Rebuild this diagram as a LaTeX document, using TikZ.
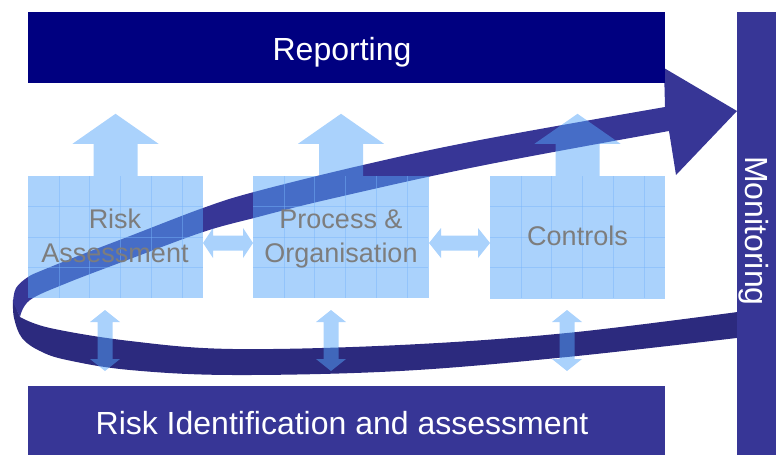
\documentclass[tikz,border=0pt]{standalone}
\usepackage{fontspec}
\setmainfont{Liberation Sans}
\usetikzlibrary{calc}
\definecolor{navybar}{RGB}{0,0,128}
\definecolor{bandbar}{RGB}{55,54,150}
\definecolor{banddark}{RGB}{44,42,126}
\definecolor{lblue}{RGB}{85,165,249}
\definecolor{gridblue}{RGB}{120,180,250}
\definecolor{labelgray}{RGB}{125,125,125}
\tikzset{
  lb/.style={fill=lblue, fill opacity=0.5},
  boxnode/.style={rectangle, lb, draw=none, inner sep=0pt, minimum width=175pt, minimum height=122pt},
  gridline/.style={draw=gridblue, draw opacity=0.45, line width=0.6pt},
  barnode/.style={rectangle, draw=none, inner sep=0pt},
  lbl/.style={text=labelgray, font=\fontsize{27}{27}\selectfont, anchor=base, inner sep=0pt},
  bartext/.style={text=white, font=\fontsize{32}{32}\selectfont, anchor=base, inner sep=0pt},
  uparr/.pic={\fill[lb] (-22,0) -- (-22,-32) -- (-43,-32) -- (0,-62) -- (43,-32) -- (22,-32) -- (22,0) -- cycle;}
}
\newcommand\hdarrow[4]{\fill[lb] (#1,#3) -- (#1+#4,#3-15) -- (#1+#4,#3-7.5) -- (#2-#4,#3-7.5) -- (#2-#4,#3-15) -- (#2,#3) -- (#2-#4,#3+15) -- (#2-#4,#3+7.5) -- (#1+#4,#3+7.5) -- (#1+#4,#3+15) -- cycle;}
\newcommand\vdarrow[4]{\fill[lb] (#3,#1) -- (#3+15,#1+#4) -- (#3+7.5,#1+#4) -- (#3+7.5,#2-#4) -- (#3+15,#2-#4) -- (#3,#2) -- (#3-15,#2-#4) -- (#3-7.5,#2-#4) -- (#3-7.5,#1+#4) -- (#3-15,#1+#4) -- cycle;}
\newcommand\boxgrid[2]{%
  \foreach \k in {1,...,5} {\draw[gridline] (#1+30.8*\k,#2) -- (#1+30.8*\k,#2+122);}
  \foreach \k in {1,2,3} {\draw[gridline] (#1,#2+30.5*\k) -- (#1+175,#2+30.5*\k);}
}
\begin{document}
\begin{tikzpicture}[x=1pt, y=-1pt]
\useasboundingbox (0,0) rectangle (776,455);
% swoosh band: lower (darker) part
\fill[banddark] plot[smooth, tension=0.6] coordinates {(13,300) (14,318) (22,338) (40,351) (67,360) (130,370) (233,375) (400,371) (567,357) (745,337)}
  -- (745,311)
  -- plot[smooth, tension=0.6] coordinates {(745,311) (567,333) (400,345) (233,349) (130,341) (50,328) (20,317)} -- cycle;
% swoosh band: upper part with arrowhead
\fill[bandbar] plot[smooth, tension=0.6] coordinates {(13,302) (16,288) (28,277) (43,270) (83,254) (130,236) (203,208) (254,192) (363,165) (480,140) (665,107)}
  -- (664,68) -- (737,111) -- (676,175) -- (669,131)
  -- plot[smooth, tension=0.6] coordinates {(669,131) (480,166) (330,199) (254,218) (203,232) (130,259) (67,283) (30,300) (20,317)} -- cycle;
% boxes
\node[boxnode] (b1) at (115.5,237) {};
\node[boxnode, minimum width=176pt] (b2) at (341,237) {};
\node[boxnode, minimum height=123pt] (b3) at (577.5,237.5) {};
\boxgrid{28}{176}
\boxgrid{253}{176}
\boxgrid{490}{176}
% up arrows
\pic at (b1.north) {uparr};
\pic at (b2.north) {uparr};
\pic at (b3.north) {uparr};
% horizontal double arrows
\hdarrow{203}{253}{243}{10}
\hdarrow{429}{490}{243}{12}
% vertical double arrows
\vdarrow{310}{371}{105}{12}
\vdarrow{310}{371}{331}{12}
\vdarrow{310}{371}{567}{12}
% labels in boxes
\node[lbl] (t1a) at (115,228) {Risk};
\node[lbl] (t1b) at (115,262) {Assessment};
\node[lbl] (t2a) at (341,228) {Process \&};
\node[lbl] (t2b) at (341,262) {Organisation};
\node[lbl] (t3) at (577.5,245) {Controls};
% bars
\node[barnode, fill=navybar, minimum width=637pt, minimum height=71pt] (rep) at (346.5,47.5) {};
\node[bartext] (reptext) at (342,60) {Reporting};
\node[barnode, fill=bandbar, minimum width=637pt, minimum height=69pt] (rid) at (346.5,420.5) {};
\node[bartext] (ridtext) at (342,434) {Risk Identification and assessment};
\node[barnode, fill=bandbar, minimum width=39pt, minimum height=443pt] (mon) at (756.5,233.5) {};
\node[bartext, rotate=-90] (montext) at (745,231) {Monitoring};
\end{tikzpicture}
\end{document}
